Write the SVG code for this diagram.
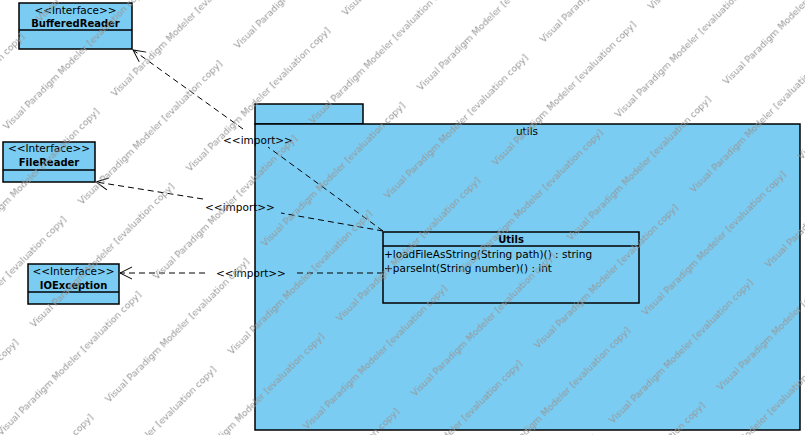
<svg xmlns="http://www.w3.org/2000/svg" width="805" height="435" viewBox="0 0 805 435">
  <style>
    .box { fill: #7ACCF2; stroke: #000; stroke-width: 1.5; }
    .div { stroke: #000; stroke-width: 1.5; }
    .st { font-family: "DejaVu Sans", "Liberation Sans", sans-serif; font-size: 10.5px; fill: #000; text-anchor: middle; }
    .nm { font-family: "DejaVu Sans", "Liberation Sans", sans-serif; font-size: 10px; font-weight: bold; fill: #000; text-anchor: middle; }
    .tx { font-family: "DejaVu Sans", "Liberation Sans", sans-serif; font-size: 10.5px; fill: #000; }
    .conn { fill: none; stroke: #000; stroke-width: 1; stroke-dasharray: 6 4; }
    .wm { font-family: "DejaVu Sans", "Liberation Sans", sans-serif; font-size: 9.3px; fill: #969696; }
  </style>
  <defs>
    <marker id="open" viewBox="-13 -7 14 14" refX="0" refY="0" markerWidth="14" markerHeight="14" orient="auto" markerUnits="userSpaceOnUse">
      <path d="M-12,-6 L0,0 L-12,6" fill="none" stroke="#000" stroke-width="1"/>
    </marker>
    <pattern id="wmp" patternUnits="userSpaceOnUse" width="220.5" height="106" patternTransform="rotate(-45)">
      <text class="wm" x="133.5" y="96.9">Visual Paradigm Modeler [evaluation copy]</text>
      <text class="wm" x="-87" y="96.9">Visual Paradigm Modeler [evaluation copy]</text>
      <text class="wm" x="12.7" y="43.9">Visual Paradigm Modeler [evaluation copy]</text>
    </pattern>
  </defs>
  <rect x="0" y="0" width="805" height="435" fill="#fff"/>

  <g id="package-utils">
    <rect class="box" x="255" y="104" width="108" height="20"/>
    <rect class="box" x="255" y="124" width="545" height="306"/>
    <text class="tx" x="527" y="135" text-anchor="middle">utils</text>
  </g>

  <g id="BufferedReader">
    <rect class="box" x="19" y="3" width="113" height="46"/>
    <line class="div" x1="19" y1="30" x2="132" y2="30"/>
    <text class="st" x="75.5" y="14">&lt;&lt;Interface&gt;&gt;</text>
    <text class="nm" x="75.5" y="27">BufferedReader</text>
  </g>

  <g id="FileReader">
    <rect class="box" x="3" y="142" width="92" height="40"/>
    <line class="div" x1="3" y1="170" x2="95" y2="170"/>
    <text class="st" x="49" y="152">&lt;&lt;Interface&gt;&gt;</text>
    <text class="nm" x="49" y="166">FileReader</text>
  </g>

  <g id="IOException">
    <rect class="box" x="28" y="264" width="91" height="40"/>
    <line class="div" x1="28" y1="292" x2="119" y2="292"/>
    <text class="st" x="73.5" y="275">&lt;&lt;Interface&gt;&gt;</text>
    <text class="nm" x="73.5" y="289">IOException</text>
  </g>

  <g id="Utils">
    <rect class="box" x="383" y="232" width="256" height="71"/>
    <line class="div" x1="383" y1="246" x2="639" y2="246"/>
    <text class="nm" x="511" y="243">Utils</text>
    <text class="tx" x="384" y="258">+loadFileAsString(String path)() : string</text>
    <text class="tx" x="384" y="272">+parseInt(String number)() : int</text>
  </g>

  <g id="connectors">
    <path class="conn" d="M383,231 L268,147"/>
    <path class="conn" d="M243,129 L133,50" marker-end="url(#open)"/>
    <text class="st" x="258" y="144">&lt;&lt;import&gt;&gt;</text>
    <path class="conn" d="M383,231 L281,213"/>
    <path class="conn" d="M203,199 L96,182" marker-end="url(#open)"/>
    <text class="st" x="240" y="211">&lt;&lt;import&gt;&gt;</text>
    <path class="conn" d="M383,273 L297,273"/>
    <path class="conn" d="M205,273 L120,273" marker-end="url(#open)"/>
    <text class="st" x="251" y="277">&lt;&lt;import&gt;&gt;</text>
  </g>

  <rect id="watermark" x="0" y="0" width="805" height="435" fill="url(#wmp)" pointer-events="none"/>
</svg>
